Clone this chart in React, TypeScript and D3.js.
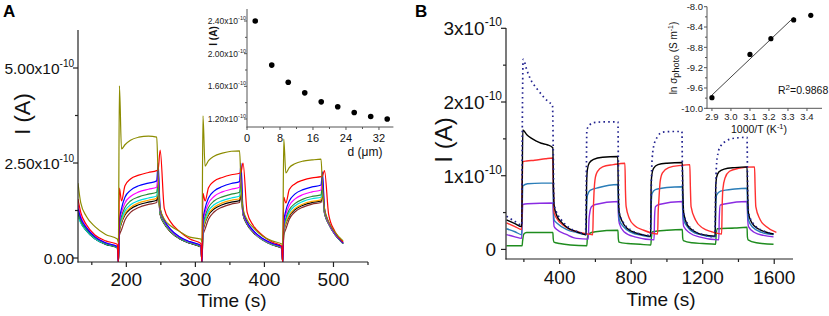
import React from "react";
import * as d3 from "d3";

const FONT = "'Liberation Sans', Arial, Helvetica, sans-serif";

// ---------- Panel A: photocurrent vs time (values in 1e-10 A) ----------
const timeA = [130,134,142,155,170,187,188.5,190,193,198,206,218,232,244,246,249,255,264,277,292,308,309.5,311,314,319,327,339,352,364,366,369,375,384,397,411,425,426.5,428,431,436,444,456,469,482,484,487,493,502,514];
const oliveA = [1.97,1.45,1.1,0.82,0.62,0.5,0.4,4.53,2.87,2.98,3.1,3.18,3.21,3.18,2.2,1.3,1.02,0.85,0.7,0.55,0.5,0.42,3.74,2.42,2.56,2.68,2.76,2.81,2.82,2.0,1.3,1.0,0.8,0.58,0.45,0.37,0.35,3.13,2.24,2.38,2.48,2.55,2.58,2.6,1.9,1.3,0.95,0.68,0.45];
const redA = [1.55,1.2,0.88,0.6,0.45,0.36,-0.12,1.84,1.5,1.9,2.08,2.18,2.25,2.3,2.32,2.84,1.3,0.95,0.7,0.5,0.38,-0.12,1.7,1.5,1.85,2.02,2.12,2.19,2.23,2.25,2.5,1.2,0.85,0.6,0.42,0.32,-0.12,1.6,1.45,1.8,1.95,2.05,2.11,2.14,2.16,2.3,1.15,0.7,0.42];
const blueA = [1.3,1.05,0.8,0.55,0.4,0.3,-0.12,1.0,1.3,1.6,1.78,1.9,1.97,2.03,2.5,1.3,1.0,0.76,0.56,0.43,0.33,-0.12,1.0,1.3,1.58,1.76,1.88,1.96,2.01,2.5,1.25,0.95,0.72,0.52,0.39,0.3,-0.12,0.95,1.25,1.5,1.68,1.8,1.87,1.92,2.27,1.3,0.95,0.66,0.4];
const magentaA = [1.4,1.1,0.82,0.56,0.4,0.3,-0.12,0.95,1.2,1.45,1.62,1.74,1.81,1.86,2.3,1.25,0.98,0.74,0.55,0.42,0.32,-0.12,0.95,1.2,1.44,1.62,1.74,1.81,1.86,2.35,1.22,0.93,0.7,0.51,0.38,0.29,-0.12,0.9,1.15,1.38,1.55,1.67,1.74,1.79,2.15,1.25,0.92,0.64,0.39];
const greenA = [1.2,0.98,0.76,0.53,0.38,0.28,-0.12,0.85,1.1,1.33,1.5,1.61,1.68,1.73,2.0,1.2,0.95,0.72,0.53,0.41,0.31,-0.12,0.85,1.1,1.33,1.5,1.61,1.68,1.73,2.0,1.2,0.91,0.69,0.5,0.37,0.28,-0.12,0.82,1.05,1.27,1.43,1.55,1.62,1.66,1.95,1.22,0.9,0.63,0.38];
const cyanA = [1.1,0.92,0.72,0.5,0.37,0.27,-0.12,0.8,1.02,1.24,1.4,1.51,1.58,1.63,1.9,1.18,0.93,0.71,0.52,0.4,0.3,-0.12,0.8,1.02,1.24,1.4,1.51,1.58,1.63,1.9,1.18,0.9,0.68,0.49,0.36,0.27,-0.12,0.78,1.0,1.2,1.37,1.49,1.56,1.6,1.85,1.2,0.9,0.62,0.38];
const orangeA = [1.3,1.0,0.76,0.52,0.38,0.28,-0.12,0.72,0.95,1.17,1.33,1.45,1.52,1.57,1.8,1.17,0.92,0.7,0.52,0.4,0.3,-0.12,0.72,0.95,1.17,1.33,1.45,1.52,1.56,1.8,1.17,0.9,0.68,0.49,0.36,0.27,-0.12,0.7,0.92,1.13,1.3,1.42,1.49,1.53,1.78,1.2,0.92,0.64,0.4];
const blackA = [1.15,0.94,0.72,0.5,0.36,0.27,-0.12,0.7,0.92,1.13,1.29,1.4,1.47,1.52,1.75,1.15,0.9,0.69,0.51,0.39,0.29,-0.12,0.7,0.92,1.13,1.29,1.4,1.47,1.51,1.75,1.15,0.88,0.67,0.48,0.35,0.26,-0.12,0.68,0.9,1.1,1.27,1.39,1.46,1.5,1.75,1.18,0.9,0.62,0.38];
const brownA = [1.2,0.96,0.73,0.5,0.37,0.27,-0.12,0.6,0.74,1.0,1.2,1.33,1.41,1.46,1.7,1.15,0.9,0.69,0.51,0.39,0.29,-0.12,0.6,0.76,1.02,1.21,1.34,1.42,1.46,1.7,1.15,0.88,0.67,0.48,0.35,0.26,-0.12,0.6,0.76,1.02,1.21,1.34,1.42,1.46,1.7,1.18,0.9,0.62,0.38];

const yTicksA = [0, 2.5, 5];
const yTickBaseA = ["0.00", "2.50x10", "5.00x10"];
const yTickSupA = ["", "-10", "-10"];
const yMinorA = [1.25, 3.75];
const xTicksA = [200, 300, 400, 500];
const xMinorA = [150, 250, 350, 450, 550];

// ---------- Inset A: current vs thickness ----------
const distA = [2, 6, 10, 14, 18, 22, 26, 30, 34];
const currA = [2.4, 1.86, 1.65, 1.52, 1.41, 1.35, 1.28, 1.23, 1.2];
const yTicksIA = [1.2, 1.6, 2.0, 2.4];
const yMinorIA = [1.4, 1.8, 2.2];
const xTicksIA = [0, 8, 16, 24, 32];
const xMinorIA = [4, 12, 20, 28];

// ---------- Panel B: photocurrent vs time at temperatures (1e-10 A) ----------
const dottedB: [number, number][] = [[103,0.45],[150,0.38],[188,0.33],[191,1.6],[196,2.58],[217,2.43],[235,2.32],[273,2.18],[310,2.07],[338,2.0],[360,1.96],[364,1.4],[368,0.62],[380,0.52],[410,0.4],[450,0.3],[500,0.24],[545,0.21],[549,0.9],[552,1.62],[565,1.68],[590,1.72],[650,1.73],[726,1.73],[729,0.9],[733,0.5],[760,0.35],[800,0.26],[850,0.21],[908,0.19],[911,0.6],[915,1.12],[925,1.39],[945,1.52],[975,1.59],[1030,1.6],[1084,1.6],[1087,0.9],[1092,0.5],[1120,0.33],[1160,0.24],[1220,0.19],[1268,0.17],[1271,0.6],[1276,1.1],[1285,1.3],[1300,1.4],[1330,1.47],[1380,1.51],[1448,1.52],[1451,0.9],[1456,0.5],[1490,0.33],[1540,0.25],[1596,0.21]];
const blackB: [number, number][] = [[103,0.4],[150,0.35],[188,0.31],[191,1.0],[194,1.62],[215,1.56],[241,1.51],[270,1.47],[297,1.44],[330,1.42],[362,1.38],[365,0.9],[369,0.6],[384,0.46],[410,0.37],[440,0.3],[496,0.24],[548,0.2],[551,0.9],[555,1.08],[565,1.17],[590,1.22],[640,1.25],[725,1.26],[728,0.8],[733,0.5],[750,0.38],[780,0.28],[830,0.22],[880,0.19],[909,0.18],[912,0.9],[916,1.02],[925,1.1],[950,1.15],[1000,1.17],[1086,1.18],[1089,0.8],[1094,0.49],[1115,0.33],[1150,0.25],[1200,0.2],[1270,0.18],[1273,0.85],[1278,0.98],[1290,1.05],[1320,1.09],[1380,1.11],[1448,1.12],[1451,0.8],[1456,0.49],[1475,0.36],[1510,0.28],[1560,0.23],[1596,0.21]];
const redB: [number, number][] = [[103,0.36],[150,0.31],[188,0.27],[191,0.9],[194,1.19],[215,1.2],[260,1.21],[320,1.23],[362,1.24],[365,0.85],[369,0.5],[384,0.42],[420,0.33],[460,0.27],[500,0.24],[585,0.2],[588,0.5],[592,0.76],[600,0.98],[612,1.06],[640,1.12],[700,1.15],[765,1.17],[768,0.8],[772,0.58],[790,0.42],[820,0.32],[870,0.26],[948,0.21],[951,0.5],[955,0.67],[962,0.92],[975,1.04],[1010,1.11],[1080,1.14],[1128,1.15],[1131,0.85],[1135,0.58],[1160,0.4],[1200,0.29],[1250,0.24],[1306,0.21],[1309,0.6],[1313,0.82],[1325,0.97],[1350,1.06],[1400,1.1],[1490,1.12],[1493,0.85],[1497,0.58],[1520,0.41],[1555,0.31],[1612,0.23]];
const steelB: [number, number][] = [[103,0.28],[150,0.24],[188,0.2],[191,0.6],[194,0.86],[220,0.89],[300,0.9],[362,0.9],[365,0.6],[369,0.4],[384,0.36],[440,0.27],[496,0.23],[548,0.2],[551,0.6],[555,0.73],[570,0.8],[620,0.84],[726,0.88],[729,0.55],[734,0.4],[760,0.3],[800,0.23],[860,0.19],[909,0.17],[912,0.6],[917,0.76],[935,0.81],[1000,0.84],[1086,0.85],[1089,0.55],[1094,0.4],[1120,0.29],[1170,0.21],[1270,0.17],[1273,0.6],[1278,0.74],[1300,0.79],[1380,0.82],[1448,0.83],[1451,0.55],[1456,0.4],[1480,0.3],[1530,0.23],[1596,0.2]];
const purpleB: [number, number][] = [[103,0.2],[150,0.17],[188,0.15],[191,0.45],[194,0.61],[220,0.62],[362,0.63],[365,0.45],[369,0.31],[384,0.27],[440,0.2],[496,0.15],[560,0.14],[564,0.4],[568,0.49],[578,0.58],[600,0.61],[726,0.65],[729,0.45],[734,0.35],[760,0.24],[820,0.17],[928,0.13],[931,0.45],[936,0.58],[955,0.61],[1086,0.65],[1089,0.45],[1094,0.31],[1130,0.22],[1180,0.17],[1290,0.13],[1293,0.45],[1298,0.6],[1330,0.62],[1448,0.65],[1451,0.45],[1456,0.31],[1490,0.23],[1540,0.19],[1596,0.17]];
const greenB: [number, number][] = [[103,0.05],[190,0.05],[193,0.12],[200,0.21],[215,0.23],[362,0.23],[364,0.15],[368,0.1],[400,0.08],[460,0.06],[552,0.05],[555,0.15],[562,0.21],[600,0.24],[726,0.26],[728,0.15],[732,0.1],[780,0.08],[850,0.07],[910,0.06],[913,0.16],[920,0.24],[1000,0.26],[1086,0.27],[1088,0.16],[1092,0.12],[1140,0.09],[1200,0.08],[1272,0.07],[1275,0.18],[1282,0.28],[1380,0.29],[1448,0.3],[1450,0.17],[1454,0.13],[1500,0.09],[1596,0.07]];

const yTicksB = [0, 1, 2, 3];
const yTickBaseB = ["0", "1x10", "2x10", "3x10"];
const yTickSupB = ["", "-10", "-10", "-10"];
const yMinorB = [0.5, 1.5, 2.5];
const xTicksB = [400, 800, 1200, 1600];
const xMinorB = [200, 600, 1000, 1400];

// ---------- Inset B: Arrhenius plot ----------
const invT = [2.9, 3.1, 3.21, 3.33, 3.42];
const lnSigma = [-9.79, -8.94, -8.63, -8.26, -8.17];
const fitCount = 4;
const yTicksIB = [-8.0, -8.4, -8.8, -9.2, -9.6, -10.0];
const yMinorIB = [-8.2, -8.6, -9.0, -9.4, -9.8];
const xTicksIB = [2.9, 3.0, 3.1, 3.2, 3.3, 3.4];

// scales
const xA = d3.scaleLinear().domain([130, 550]).range([78, 368]);
const yA = d3.scaleLinear().domain([-0.105, 6.0]).range([262, 30]);
const xIA = d3.scaleLinear().domain([0, 35.5]).range([247, 393.4]);
const yIA = d3.scaleLinear().domain([1.102, 2.547]).range([127, 9]);
const xB = d3.scaleLinear().domain([100, 1705]).range([506, 793]);
const yB = d3.scaleLinear().domain([-0.13, 3.0]).range([259, 28.3]);
const xIB = d3.scaleLinear().domain([2.874, 3.479]).range([707, 822]);
const yIB = d3.scaleLinear().domain([-10.0, -8.0]).range([108.3, 6.7]);

const seriesA = [
  { color: "#8b2a2a", v: brownA },
  { color: "#000000", v: blackA },
  { color: "#ffa500", v: orangeA },
  { color: "#00dede", v: cyanA },
  { color: "#2e8b3a", v: greenA },
  { color: "#ff00ff", v: magentaA },
  { color: "#0000ff", v: blueA },
  { color: "#ff0000", v: redA },
  { color: "#8c8c00", v: oliveA },
];

const seriesB = [
  { color: "#1e8c1e", d: greenB, dash: "" },
  { color: "#8a2be2", d: purpleB, dash: "" },
  { color: "#2a7db8", d: steelB, dash: "" },
  { color: "#ff3030", d: redB, dash: "" },
  { color: "#000000", d: blackB, dash: "" },
  { color: "#22228f", d: dottedB, dash: "1.6 3.2" },
];

function fit(xs: number[], ys: number[]) {
  const mx = d3.mean(xs)!;
  const my = d3.mean(ys)!;
  let sxy = 0, sxx = 0;
  xs.forEach((x, i) => { sxy += (x - mx) * (ys[i] - my); sxx += (x - mx) * (x - mx); });
  const b = sxy / sxx;
  return (x: number) => my + b * (x - mx);
}

const T = "#222";

export default function App() {
  const lineA = d3.line<number>()
    .x((_, i) => xA(timeA[i]))
    .y((v) => yA(v))
    .curve(d3.curveMonotoneX);
  const lineB = d3.line<[number, number]>()
    .x((d) => xB(d[0]))
    .y((d) => yB(d[1]))
    .curve(d3.curveMonotoneX);

  const fx = invT.slice(0, fitCount);
  const fy = lnSigma.slice(0, fitCount);
  const f = fit(fx, fy);
  const x0 = fx[0], x1 = fx[fx.length - 1];

  return (
    <svg width={829} height={316} style={{ position: "absolute", left: 0, top: 0, background: "#fff" }} fontFamily={FONT}>
      <defs>
        <clipPath id="clipA"><rect x={78} y={30} width={290} height={232} /></clipPath>
        <clipPath id="clipB"><rect x={506} y={28} width={287} height={231} /></clipPath>
      </defs>

      {/* ================= Panel A ================= */}
      <text x={3} y={17} fontSize={17} fontWeight="bold" fill="#000">A</text>
      <g clipPath="url(#clipA)" fill="none">
        {seriesA.map((s, i) => (
          <path key={i} d={lineA(s.v) || ""} stroke={s.color} strokeWidth={1.2} />
        ))}
      </g>
      <line x1={78} x2={78} y1={30} y2={262.5} stroke={T} strokeWidth={1.2} />
      <line x1={77.5} x2={368} y1={262} y2={262} stroke={T} strokeWidth={1.2} />
      {yTicksA.map((t, i) => (
        <g key={"yta" + i}>
          <line x1={73} x2={78} y1={yA(t)} y2={yA(t)} stroke={T} strokeWidth={1.2} />
          <text x={74} y={yA(t) + 5.5} fontSize={15.5} textAnchor="end" fill="#111">
            {yTickBaseA[i]}
            {yTickSupA[i] && <tspan dy={-7} fontSize={10}>{yTickSupA[i]}</tspan>}
          </text>
        </g>
      ))}
      {yMinorA.map((t, i) => (
        <line key={"yma" + i} x1={75} x2={78} y1={yA(t)} y2={yA(t)} stroke={T} strokeWidth={1.2} />
      ))}
      {xTicksA.map((t, i) => (
        <g key={"xta" + i}>
          <line x1={xA(t)} x2={xA(t)} y1={262} y2={267} stroke={T} strokeWidth={1.2} />
          <text x={xA(t)} y={285.5} fontSize={19} textAnchor="middle" fill="#111">{t}</text>
        </g>
      ))}
      {xMinorA.map((t, i) => (
        <line key={"xma" + i} x1={xA(t)} x2={xA(t)} y1={262} y2={265} stroke={T} strokeWidth={1.2} />
      ))}
      <text x={232} y={307} fontSize={19} textAnchor="middle" fill="#111">Time (s)</text>
      <text transform="translate(30,114) rotate(-90)" fontSize={22} textAnchor="middle" fill="#111">I (A)</text>

      {/* Inset A */}
      <line x1={247} x2={247} y1={9} y2={127.5} stroke="#555" strokeWidth={1} />
      <line x1={246.5} x2={393.4} y1={127} y2={127} stroke="#555" strokeWidth={1} />
      {yTicksIA.map((t, i) => (
        <g key={"ytia" + i}>
          <line x1={244} x2={247} y1={yIA(t)} y2={yIA(t)} stroke="#555" strokeWidth={1} />
          <text x={246} y={yIA(t) + 3} fontSize={8.5} textAnchor="end" fill="#222">
            {t.toFixed(2)}x10<tspan dy={-4} fontSize={5.5}>-10</tspan>
          </text>
        </g>
      ))}
      {yMinorIA.map((t, i) => (
        <line key={"ymia" + i} x1={245} x2={247} y1={yIA(t)} y2={yIA(t)} stroke="#555" strokeWidth={1} />
      ))}
      {xTicksIA.map((t, i) => (
        <g key={"xtia" + i}>
          <line x1={xIA(t)} x2={xIA(t)} y1={127} y2={130} stroke="#555" strokeWidth={1} />
          <text x={xIA(t)} y={141.5} fontSize={11} textAnchor="middle" fill="#111">{t}</text>
        </g>
      ))}
      {xMinorIA.map((t, i) => (
        <line key={"xmia" + i} x1={xIA(t)} x2={xIA(t)} y1={127} y2={129} stroke="#555" strokeWidth={1} />
      ))}
      <text x={365} y={155.5} fontSize={12} textAnchor="middle" fill="#111">d (μm)</text>
      <text transform="translate(217,36) rotate(-90)" fontSize={10} textAnchor="middle" fill="#111" fontWeight="bold">I (A)</text>
      {distA.map((d, i) => (
        <circle key={"pa" + i} cx={xIA(d)} cy={yIA(currA[i])} r={2.8} fill="#000" />
      ))}

      {/* ================= Panel B ================= */}
      <text x={415} y={17} fontSize={17} fontWeight="bold" fill="#000">B</text>
      <g clipPath="url(#clipB)" fill="none">
        {seriesB.map((s, i) => (
          <path key={i} d={lineB(s.d) || ""} stroke={s.color} strokeWidth={s.dash ? 1.7 : 1.4} strokeDasharray={s.dash || undefined} />
        ))}
      </g>
      <line x1={506} x2={506} y1={28} y2={259.5} stroke={T} strokeWidth={1.2} />
      <line x1={505.5} x2={793} y1={259} y2={259} stroke={T} strokeWidth={1.2} />
      {yTicksB.map((t, i) => (
        <g key={"ytb" + i}>
          <line x1={501} x2={506} y1={yB(t)} y2={yB(t)} stroke={T} strokeWidth={1.2} />
          <text x={t === 0 ? 496 : 502} y={yB(t) + 7} fontSize={19} textAnchor="end" fill="#111">
            {yTickBaseB[i]}
            {yTickSupB[i] && <tspan dy={-9} fontSize={12}>{yTickSupB[i]}</tspan>}
          </text>
        </g>
      ))}
      {yMinorB.map((t, i) => (
        <line key={"ymb" + i} x1={503} x2={506} y1={yB(t)} y2={yB(t)} stroke={T} strokeWidth={1.2} />
      ))}
      {xTicksB.map((t, i) => (
        <g key={"xtb" + i}>
          <line x1={xB(t)} x2={xB(t)} y1={259} y2={264} stroke={T} strokeWidth={1.2} />
          <text x={xB(t)} y={284} fontSize={19} textAnchor="middle" fill="#111">{t}</text>
        </g>
      ))}
      {xMinorB.map((t, i) => (
        <line key={"xmb" + i} x1={xB(t)} x2={xB(t)} y1={259} y2={262} stroke={T} strokeWidth={1.2} />
      ))}
      <text x={661} y={306} fontSize={19} textAnchor="middle" fill="#111">Time (s)</text>
      <text transform="translate(452,140) rotate(-90)" fontSize={24} textAnchor="middle" fill="#111">I (A)</text>

      {/* Inset B */}
      <line x1={707} x2={707} y1={6.7} y2={108.8} stroke="#555" strokeWidth={1} />
      <line x1={706.5} x2={822} y1={108.3} y2={108.3} stroke="#555" strokeWidth={1} />
      {yTicksIB.map((t, i) => (
        <g key={"ytib" + i}>
          <line x1={704} x2={707} y1={yIB(t)} y2={yIB(t)} stroke="#555" strokeWidth={1} />
          <text x={703} y={yIB(t) + 3.3} fontSize={9.5} textAnchor="end" fill="#222">{t.toFixed(1)}</text>
        </g>
      ))}
      {yMinorIB.map((t, i) => (
        <line key={"ymib" + i} x1={705} x2={707} y1={yIB(t)} y2={yIB(t)} stroke="#555" strokeWidth={1} />
      ))}
      {xTicksIB.map((t, i) => (
        <g key={"xtib" + i}>
          <line x1={xIB(t)} x2={xIB(t)} y1={108.3} y2={111} stroke="#555" strokeWidth={1} />
          <text x={xIB(t)} y={119.5} fontSize={9.5} textAnchor="middle" fill="#222">{t.toFixed(1)}</text>
        </g>
      ))}
      <text x={759} y={133} fontSize={10.5} textAnchor="middle" fill="#111">
        1000/T  (K<tspan dy={-4} fontSize={7.5}>-1</tspan><tspan dy={4}>)</tspan>
      </text>
      <text transform="translate(677,58) rotate(-90)" fontSize={10} textAnchor="middle" fill="#111">
        ln σ<tspan fontSize={9} dy={1.5}>photo</tspan><tspan dy={-1.5}> (S m</tspan><tspan dy={-4} fontSize={7}>-1</tspan><tspan dy={4}>)</tspan>
      </text>
      <line x1={xIB(x0)} y1={yIB(f(x0))} x2={xIB(x1)} y2={yIB(f(x1))} stroke="#444" strokeWidth={1} />
      {invT.map((x, i) => (
        <circle key={"pb" + i} cx={xIB(x)} cy={yIB(lnSigma[i])} r={2.6} fill="#000" />
      ))}
      <text x={778} y={94} fontSize={10.5} fill="#111">
        R<tspan dy={-4} fontSize={8}>2</tspan><tspan dy={4}>=0.9868</tspan>
      </text>
    </svg>
  );
}
